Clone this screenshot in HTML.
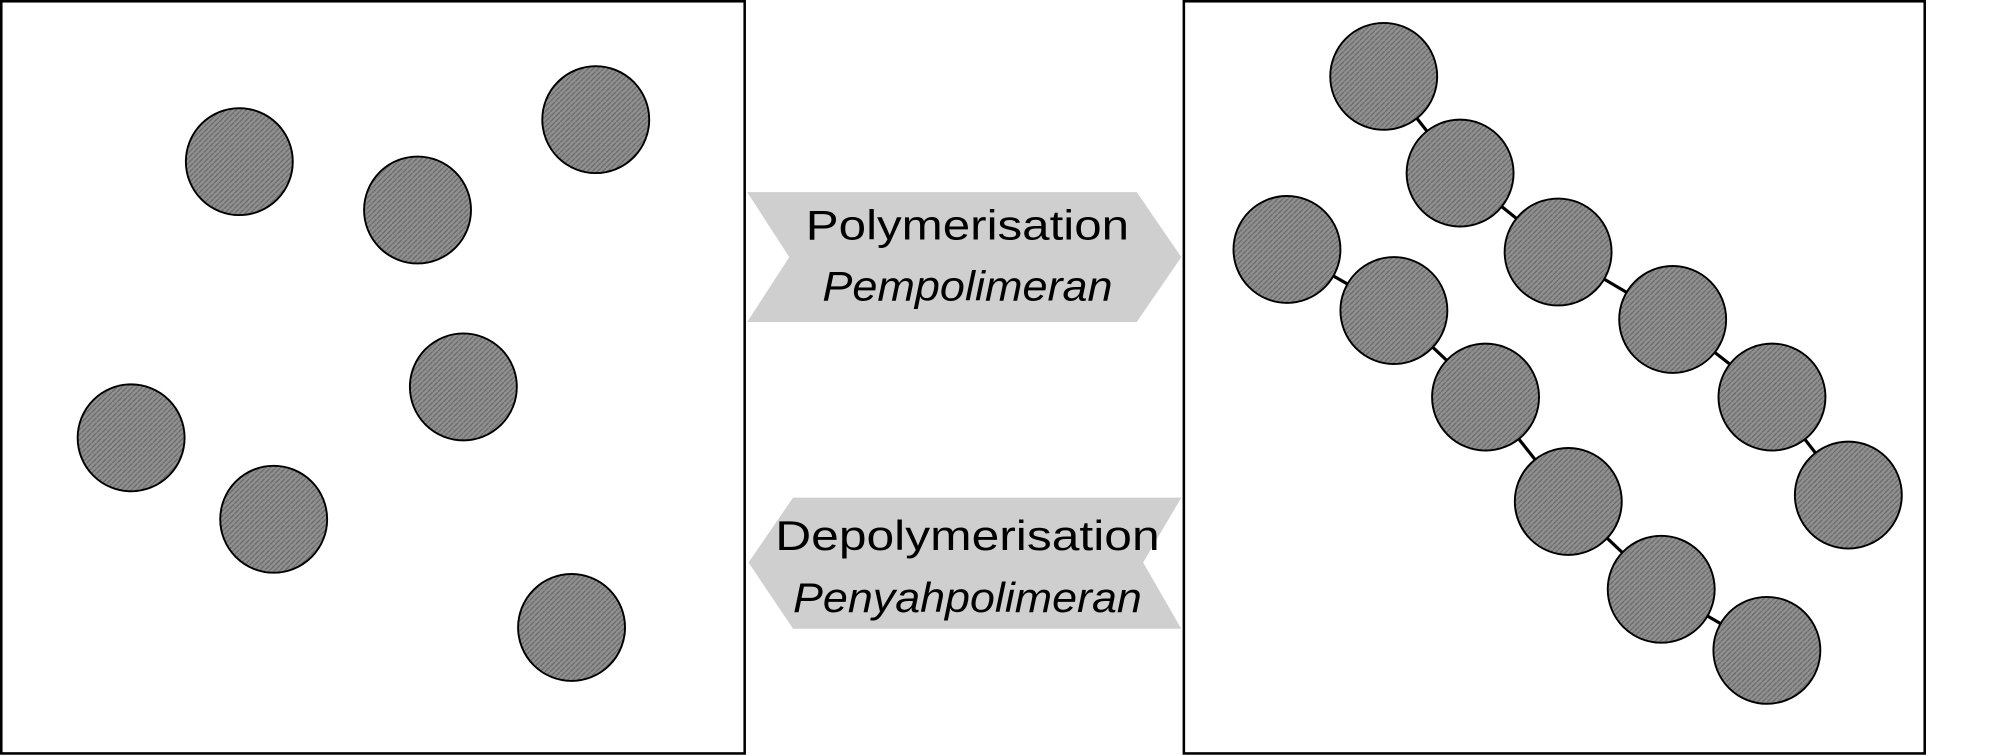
<!DOCTYPE html>
<html><head><style>html,body{margin:0;padding:0;background:#fff}svg{display:block}</style></head>
<body>
<svg width="1996" height="756" viewBox="0 0 1568 594" preserveAspectRatio="none" xmlns="http://www.w3.org/2000/svg">
<defs>
<pattern id="h" width="4" height="4" patternUnits="userSpaceOnUse">
<rect width="4" height="4" fill="#909090"/>
<path d="M0 4L4 0" stroke="#6a6a6a" stroke-width="1"/>
</pattern>
</defs>
<rect x="1" y="1" width="584" height="591" fill="#fff" stroke="#000" stroke-width="2"/>
<rect x="930" y="1" width="582" height="591" fill="#fff" stroke="#000" stroke-width="2"/>
<g stroke="#000" stroke-width="2.5">
<line x1="1087" y1="60" x2="1147" y2="136"/><line x1="1147" y1="136" x2="1224" y2="198"/><line x1="1224" y1="198" x2="1314" y2="251"/><line x1="1314" y1="251" x2="1392" y2="312"/><line x1="1392" y1="312" x2="1452" y2="389"/>
<line x1="1011" y1="196" x2="1095" y2="244"/><line x1="1095" y1="244" x2="1167" y2="312"/><line x1="1167" y1="312" x2="1232" y2="394"/><line x1="1232" y1="394" x2="1305" y2="463"/><line x1="1305" y1="463" x2="1388" y2="511"/>
</g>
<g fill="url(#h)" stroke="#000" stroke-width="1.5">
<circle cx="188" cy="127" r="42"/><circle cx="328" cy="165" r="42"/><circle cx="468" cy="94" r="42"/><circle cx="364" cy="304" r="42"/><circle cx="103" cy="344" r="42"/><circle cx="215" cy="408" r="42"/><circle cx="449" cy="493" r="42"/>
<circle cx="1087" cy="60" r="42"/><circle cx="1147" cy="136" r="42"/><circle cx="1224" cy="198" r="42"/><circle cx="1314" cy="251" r="42"/><circle cx="1392" cy="312" r="42"/><circle cx="1452" cy="389" r="42"/>
<circle cx="1011" cy="196" r="42"/><circle cx="1095" cy="244" r="42"/><circle cx="1167" cy="312" r="42"/><circle cx="1232" cy="394" r="42"/><circle cx="1305" cy="463" r="42"/><circle cx="1388" cy="511" r="42"/>
</g>
<polygon points="587,151 893,151 928,202 893,253 587,253 620,202" fill="#d0cfd0"/>
<polygon points="928,391 623,391 588,442 623,494 928,494 898,442" fill="#d0cfd0"/>
<g font-family="Liberation Sans, sans-serif" font-size="33" text-anchor="middle" fill="#000">
<text x="760" y="188" textLength="254" lengthAdjust="spacingAndGlyphs">Polymerisation</text>
<text x="760" y="236" font-style="italic" textLength="228" lengthAdjust="spacingAndGlyphs">Pempolimeran</text>
<text x="760" y="432" textLength="302" lengthAdjust="spacingAndGlyphs">Depolymerisation</text>
<text x="760" y="481" font-style="italic" textLength="274" lengthAdjust="spacingAndGlyphs">Penyahpolimeran</text>
</g>
</svg>
</body></html>
